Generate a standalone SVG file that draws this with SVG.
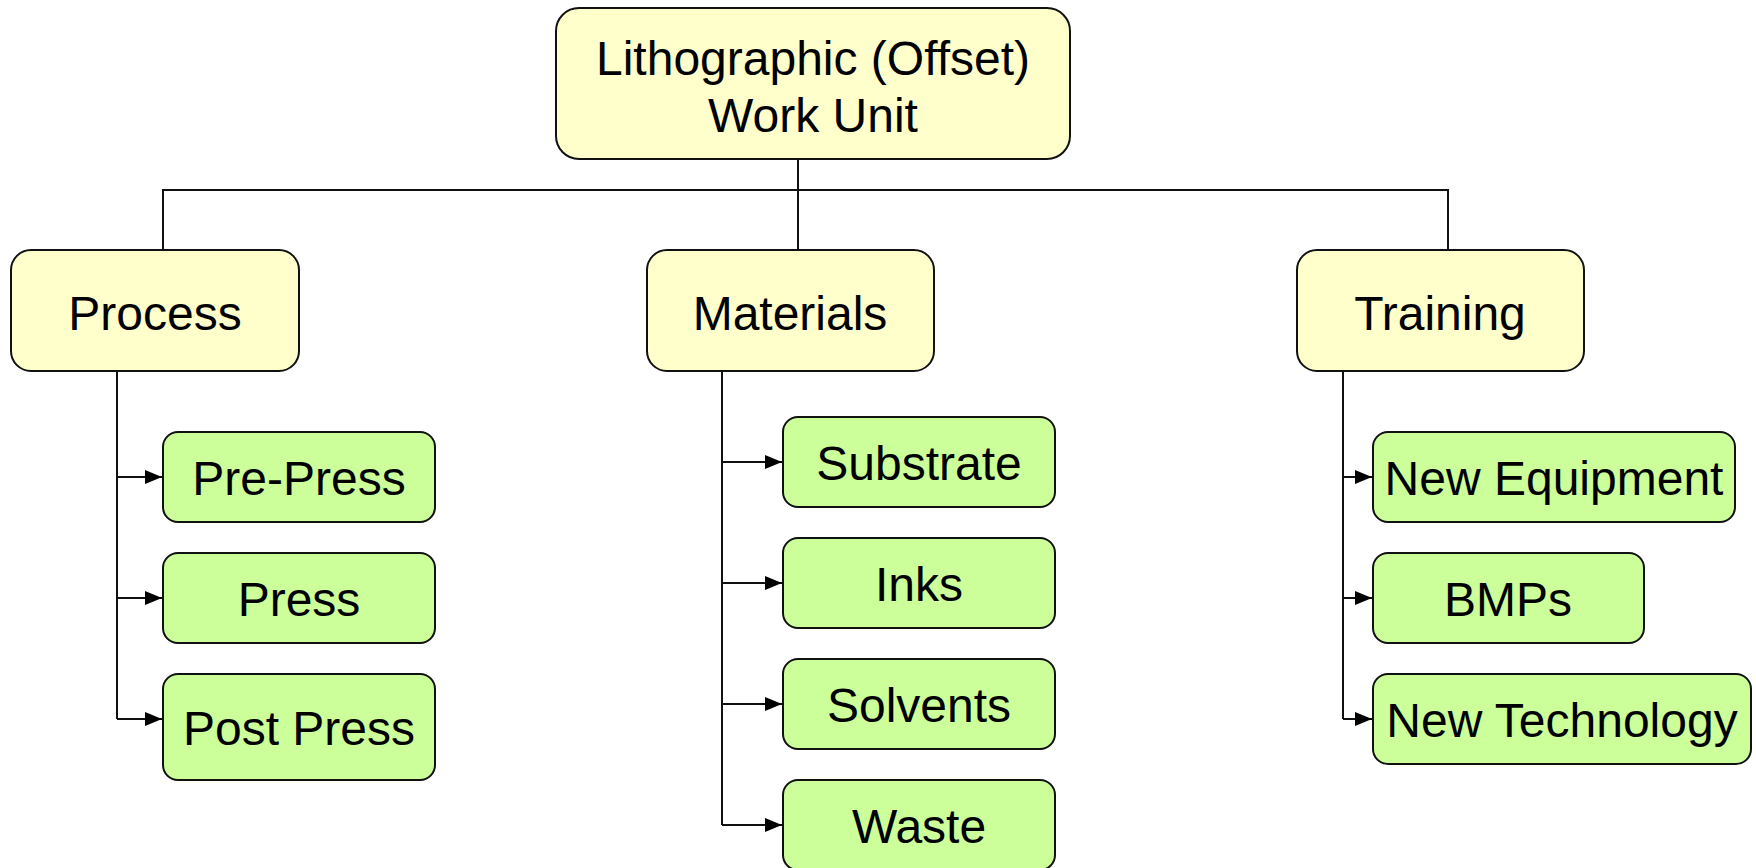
<svg xmlns="http://www.w3.org/2000/svg" width="1756" height="868" viewBox="0 0 1756 868">
  <style>
    .lvl0 { fill: #FFFFCC; stroke: #111; stroke-width: 2; }
    .lvl1 { fill: #FFFFCC; stroke: #111; stroke-width: 2; }
    .lvl2 { fill: #CCFF99; stroke: #111; stroke-width: 2; }
    .lbl { font-family: "Liberation Sans", Arial, sans-serif; font-size: 48px; fill: #000; text-anchor: middle; }
    .conn { fill: none; stroke: #111; stroke-width: 2; }
  </style>
  <defs>
    <marker id="arrow" markerUnits="userSpaceOnUse" markerWidth="17" markerHeight="14" viewBox="0 0 17 14" refX="17" refY="7" orient="auto">
      <path d="M0,0 L17,7 L0,14 z" fill="#000"/>
    </marker>
  </defs>

  <g id="connectors">
    <path class="conn" d="M798 159 V190"/>
    <path class="conn" d="M163 250 V190 H1448 V250"/>
    <path class="conn" d="M798 190 V250"/>
    <!-- Process -->
    <path class="conn" d="M117 371 V719"/>
    <path class="conn" d="M117 477 H162" marker-end="url(#arrow)"/>
    <path class="conn" d="M117 598 H162" marker-end="url(#arrow)"/>
    <path class="conn" d="M117 719 H162" marker-end="url(#arrow)"/>
    <!-- Materials -->
    <path class="conn" d="M722 372 V825"/>
    <path class="conn" d="M722 462 H782" marker-end="url(#arrow)"/>
    <path class="conn" d="M722 583 H782" marker-end="url(#arrow)"/>
    <path class="conn" d="M722 704 H782" marker-end="url(#arrow)"/>
    <path class="conn" d="M722 825 H782" marker-end="url(#arrow)"/>
    <!-- Training -->
    <path class="conn" d="M1343 371 V719"/>
    <path class="conn" d="M1343 477 H1372" marker-end="url(#arrow)"/>
    <path class="conn" d="M1343 598 H1372" marker-end="url(#arrow)"/>
    <path class="conn" d="M1343 719 H1372" marker-end="url(#arrow)"/>
  </g>

  <g id="node-root">
    <rect class="lvl0" x="556" y="8" width="514" height="151" rx="23" ry="23"/>
    <text class="lbl" x="813" y="75">Lithographic (Offset)</text>
    <text class="lbl" x="813" y="132">Work Unit</text>
  </g>

  <g id="node-process">
    <rect class="lvl1" x="11" y="250" width="288" height="121" rx="20" ry="20"/>
    <text class="lbl" x="155" y="330">Process</text>
  </g>
  <g id="node-materials">
    <rect class="lvl1" x="647" y="250" width="287" height="121" rx="20" ry="20"/>
    <text class="lbl" x="790" y="330">Materials</text>
  </g>
  <g id="node-training">
    <rect class="lvl1" x="1297" y="250" width="287" height="121" rx="20" ry="20"/>
    <text class="lbl" x="1440" y="330">Training</text>
  </g>

  <g id="node-prepress">
    <rect class="lvl2" x="163" y="432" width="272" height="90" rx="15" ry="15"/>
    <text class="lbl" x="299" y="495">Pre-Press</text>
  </g>
  <g id="node-press">
    <rect class="lvl2" x="163" y="553" width="272" height="90" rx="15" ry="15"/>
    <text class="lbl" x="299" y="616">Press</text>
  </g>
  <g id="node-postpress">
    <rect class="lvl2" x="163" y="674" width="272" height="106" rx="15" ry="15"/>
    <text class="lbl" x="299" y="745">Post Press</text>
  </g>

  <g id="node-substrate">
    <rect class="lvl2" x="783" y="417" width="272" height="90" rx="15" ry="15"/>
    <text class="lbl" x="919" y="480">Substrate</text>
  </g>
  <g id="node-inks">
    <rect class="lvl2" x="783" y="538" width="272" height="90" rx="15" ry="15"/>
    <text class="lbl" x="919" y="601">Inks</text>
  </g>
  <g id="node-solvents">
    <rect class="lvl2" x="783" y="659" width="272" height="90" rx="15" ry="15"/>
    <text class="lbl" x="919" y="722">Solvents</text>
  </g>
  <g id="node-waste">
    <rect class="lvl2" x="783" y="780" width="272" height="90" rx="15" ry="15"/>
    <text class="lbl" x="919" y="843">Waste</text>
  </g>

  <g id="node-newequipment">
    <rect class="lvl2" x="1373" y="432" width="362" height="90" rx="15" ry="15"/>
    <text class="lbl" x="1554" y="495">New Equipment</text>
  </g>
  <g id="node-bmps">
    <rect class="lvl2" x="1373" y="553" width="271" height="90" rx="15" ry="15"/>
    <text class="lbl" x="1508" y="616">BMPs</text>
  </g>
  <g id="node-newtechnology">
    <rect class="lvl2" x="1373" y="674" width="378" height="90" rx="15" ry="15"/>
    <text class="lbl" x="1562" y="737">New Technology</text>
  </g>
</svg>
